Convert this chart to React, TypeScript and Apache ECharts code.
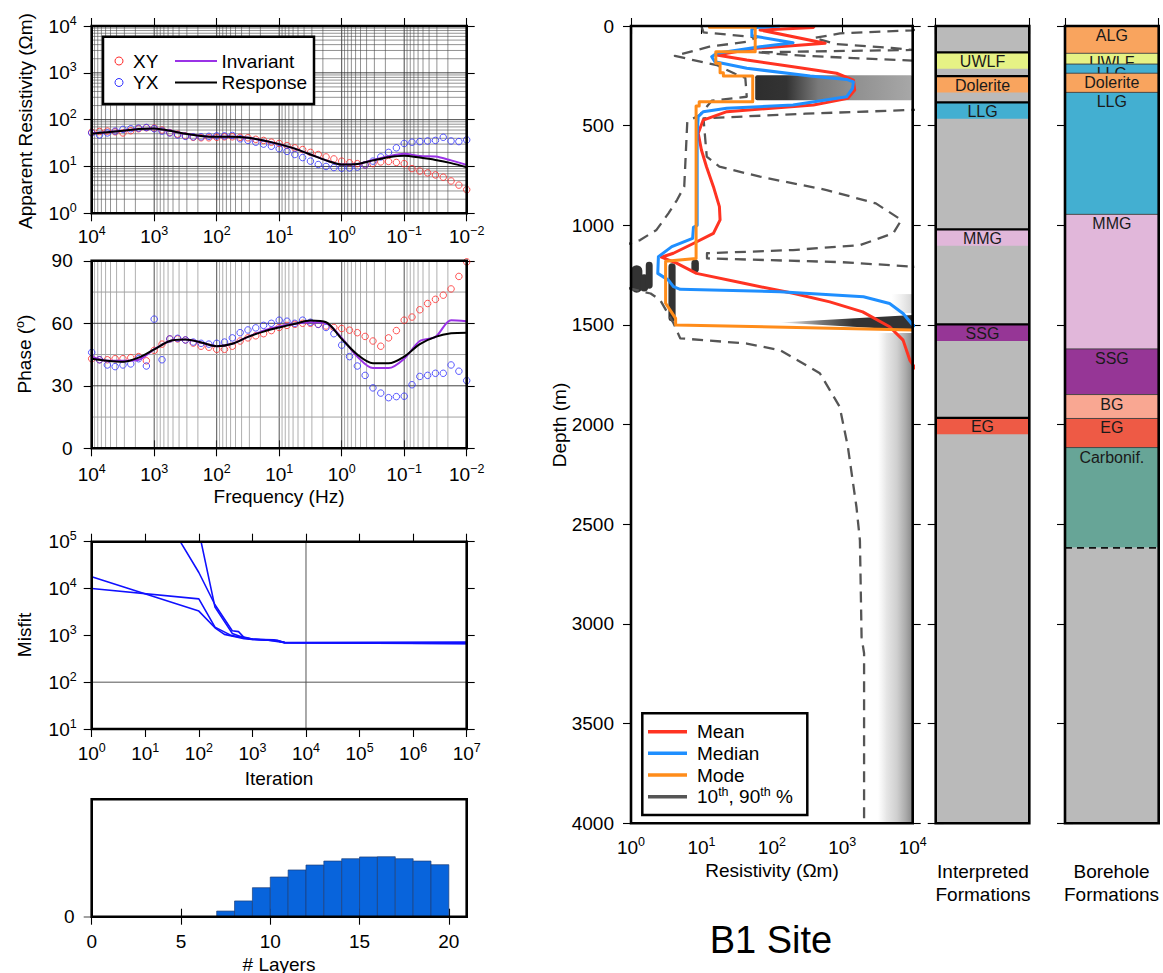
import React, { useEffect, useRef } from 'react';
import * as echarts from 'echarts';

const FONT = '"Liberation Sans", Arial, Helvetica, sans-serif';
const font = (px: number) => `${px}px ${FONT}`;

// ---------- MT sounding: apparent resistivity and phase ----------
// measurement frequencies as log10(Hz)
const dataFreqExp = [
  4, 3.875, 3.75, 3.625, 3.5, 3.375, 3.25, 3.125, 3, 2.875, 2.75, 2.625, 2.5,
  2.375, 2.25, 2.125, 2, 1.875, 1.75, 1.625, 1.5, 1.375, 1.25, 1.125, 1,
  0.875, 0.75, 0.625, 0.5, 0.375, 0.25, 0.125, 0, -0.125, -0.25, -0.375, -0.5,
  -0.625, -0.75, -0.875, -1, -1.125, -1.25, -1.375, -1.5, -1.625, -1.75, -1.875, -2,
];
const xyRho = [
  54, 56, 57, 55, 52, 58, 64, 67, 66, 60, 53, 49, 45, 42, 41, 41, 42, 43, 43, 42, 41, 38, 36, 33, 31,
  28, 25, 23, 20, 18, 16, 14.5, 13, 12, 11.5, 10.8, 11.5, 12.5, 12.8, 12.2, 11.5, 9, 8, 7.3, 6.6, 5.9, 4.9, 4.0, 3.2,
];
const yxRho = [
  52, 47, 52, 57, 62, 64, 66, 68, 64, 57, 52, 47, 44, 43, 43, 44, 45, 45, 46, 39, 36, 33, 30, 27, 24,
  21, 18, 15.5, 13, 11, 10, 9.5, 9.2, 9.3, 9.7, 10.8, 13, 16, 20, 25, 31, 33, 34, 35, 36, 42, 35, 34, 37,
];
const xyPhase = [
  43, 42.5, 42.5, 43, 43, 43.5, 44, 42, 47, 50, 52.5, 52.5, 52, 50.5, 49, 48.5, 47.5, 47.5, 49, 51.5,
  53, 54, 55, 56.5, 58, 59, 59.5, 60, 60, 59.5, 58.7, 58, 57.5, 56.7, 55.5, 53.7, 51.5, 49, 53, 56.5,
  61.5, 63, 66.5, 69.5, 71.5, 73.5, 76.5, 82.5, 89.5,
];
const yxPhase = [
  46, 42.5, 40, 39.2, 40, 40.5, 43, 39.5, 62, 42.5, 52.5, 52.8, 52, 51, 50.4, 50, 50.4, 51, 53, 55.5,
  56.8, 57.8, 59, 60, 61.5, 61, 60, 61.5, 60.5, 59.5, 58, 55, 49.5, 44, 39.5, 35, 29, 26.5, 24.3, 24.8,
  25, 30.5, 34.5, 35, 36, 36, 40, 37, 32.5,
];
// model curves, log10(Hz)
const curveFreqExp = [
  4, 3.75, 3.5, 3.25, 3, 2.75, 2.5, 2.25, 2, 1.75, 1.5, 1.25, 1, 0.75, 0.5, 0.25, 0,
  -0.25, -0.5, -0.75, -1, -1.25, -1.5, -1.75, -2,
];
const invariantRho = [51, 54, 58, 63, 65, 58, 50, 45, 43, 43, 41, 36, 30, 24, 18, 13.5, 11, 11.3, 13.8, 16.5, 18.8, 16.8, 16.3, 13.5, 10.8];
const responseRho = [50, 54, 58, 63, 65, 58, 50, 45, 43, 43, 41, 36, 30, 24, 18, 13.5, 11, 11.3, 13.5, 15.8, 17, 15.5, 13.8, 11.8, 9.6];
const invariantPhase = [44, 42, 42, 42.5, 47.5, 51.5, 52.2, 50.8, 49, 50.2, 53.5, 56.5, 58.5, 59.8, 60.5, 60, 53, 44, 38.5, 38.5, 43, 51.5, 53.5, 61.5, 61];
const responsePhase = [43, 42, 41.5, 43.5, 47.5, 51.5, 52.2, 50.8, 49, 50.2, 53.5, 56, 58, 59.8, 61.3, 60.5, 52.5, 45, 40.8, 40.8, 44, 50, 53.5, 55.2, 55.5];

// ---------- McMC chains: misfit versus iteration ----------
const chain1Iter = [1, 100, 200, 300, 500, 700, 1000, 2000, 4000, 10000000];
const chain1Misfit = [17800, 3300, 1450, 1050, 920, 850, 820, 790, 700, 690];
const chain2Iter = [1, 100, 200, 400, 700, 1000, 3000, 4000, 10000000];
const chain2Misfit = [10000, 6000, 1500, 1000, 880, 830, 760, 700, 675];
const chain3Iter = [45, 100, 200, 420, 550, 700, 1000, 2500, 4000, 10000000];
const chain3Misfit = [100000, 22000, 4500, 1250, 1200, 900, 820, 800, 700, 660];
const chain4Iter = [110, 200, 420, 600, 1000, 3000, 4000, 10000000];
const chain4Misfit = [100000, 4000, 1100, 950, 830, 780, 705, 715];

// ---------- posterior number of layers ----------
const layerBinEdges = [7, 8, 9, 10, 11, 12, 13, 14, 15, 16, 17, 18, 19, 20];
const layerProbability = [0.0096, 0.0268, 0.0494, 0.0676, 0.0796, 0.088, 0.0948, 0.0988, 0.1018, 0.1022, 0.0988, 0.0948, 0.0886];

// ---------- resistivity-depth posterior ----------
const meanDepth = [0, 7, 20, 87, 112, 145, 171, 204, 237, 271, 321, 363, 396, 430, 472, 538, 622, 706, 806, 906, 973, 1040, 1090, 1140, 1160, 1191, 1241, 1291, 1341, 1384, 1434, 1509, 1576, 1676, 1720];
const meanRho = [400, 390, 68, 570, 60, 16.5, 44, 200, 830, 1440, 1500, 1200, 390, 23, 10.6, 9, 10, 11.8, 14.8, 18, 18.4, 14.8, 7.8, 4, 2.7, 4.5, 8.5, 40, 200, 665, 1950, 4700, 7300, 9100, 11000];
const medianDepth = [0, 8, 17, 49, 84, 104, 137, 154, 179, 212, 251, 268, 280, 313, 355, 396, 413, 430, 455, 538, 1000, 1010, 1065, 1107, 1157, 1241, 1275, 1308, 1321, 1333, 1358, 1392, 1442, 1500, 1520];
const medianRho = [130, 60, 52, 52, 200, 68, 16.5, 14, 15.5, 44, 350, 1150, 1440, 1400, 1150, 200, 22.8, 10.6, 9, 8.7, 8.7, 7.7, 7.5, 3.8, 2.45, 2.4, 3.4, 4.0, 5, 130, 2000, 4700, 7300, 10000, 15000];
const modeDepth = [0, 6, 6, 129, 129, 187, 187, 234, 234, 251, 251, 380, 380, 401, 401, 1166, 1180, 1391, 1467, 1500, 1525];
const modeRho = [13, 13, 58, 58, 16, 16, 18.4, 18.4, 20.5, 20.5, 53.5, 53.5, 9.3, 9.3, 8.4, 8.4, 3.1, 3.1, 4.3, 4.3, 10000];
const p10Depth = [0, 32, 57, 79, 104, 150, 171, 196, 240, 260, 355, 375, 446, 480, 806, 873, 940, 1023, 1074, 1100, 1310, 1342, 1375, 1490, 1567, 1593, 1626, 1742, 1911, 2111, 2413, 2580, 3066, 3147, 4000];
const p10Rho = [10, 10.7, 61, 44, 13, 4.2, 7.7, 16.5, 30, 42, 44, 14, 9.5, 6.3, 5.7, 4.5, 3.4, 2.3, 1.35, 0.8, 0.8, 1.9, 2.6, 4, 5, 44, 130, 480, 920, 1200, 1590, 1780, 1880, 2040, 2040];
const p90Depth = [0, 22, 37, 60, 90, 110, 120, 132, 150, 174, 180, 415, 421, 440, 463, 655, 706, 756, 823, 890, 973, 1040, 1099, 1124, 1140, 1166, 1185, 1207, 1215, 4000];
const p90Rho = [20000, 10000, 930, 400, 800, 5000, 10000, 61, 300, 10000, 20000, 20000, 10000, 300, 10.7, 11.9, 18, 68, 600, 3000, 6900, 5300, 1800, 200, 12, 12, 1000, 10000, 20000, 20000];

// high-probability patches of the posterior density (resistivity range, depth range)
const shadeRhoMin = [58, 1.0, 1.35, 1.62, 3.4, 7.2, 3200, 5000];
const shadeRhoMax = [10000, 1.45, 1.75, 2.03, 4.3, 9.2, 10000, 10000];
const shadeTop = [247, 1200, 1245, 1183, 1190, 1172, 1540, 1345];
const shadeBottom = [373, 1338, 1332, 1318, 1482, 1238, 4000, 1440];
const wedgeRho = [130, 10000, 10000];
const wedgeDepth = [1488, 1450, 1527];

// ---------- formations ----------
const modelBase = 4000;
const interpUnits = ['UWLF', 'Dolerite', 'LLG', 'MMG', 'SSG', 'EG'];
const interpTops = [132, 251, 383, 1020, 1497, 1966];
const boreUnits = ['ALG', 'UWLF', 'LLG', 'Dolerite', 'LLG', 'MMG', 'SSG', 'BG', 'EG', 'Carbonif.', ''];
const boreTops = [0, 137, 191, 237, 333, 945, 1620, 1849, 1969, 2115, 2618];

const unitColors: Record<string, string> = {
  ALG: '#f9a45e', UWLF: '#e6f285', LLG: '#43afd1', Dolerite: '#f9a45e', MMG: '#e1b7da',
  SSG: '#963696', BG: '#f9a792', EG: '#ee5a45', 'Carbonif.': '#67a597', '': '#bababa',
};
const shadeStyles: any[] = [
  { r: 2, stops: [[0, '#2e2e2e'], [0.2, '#333333'], [0.3, '#575757'], [0.4, '#7a7a7a'], [0.6, '#8e8e8e'], [1, '#a8a8a8']] },
  { r: 6, color: '#333333' },
  { r: 5, color: '#333333' },
  { r: 4, color: '#333333' },
  { r: 4, color: '#333333' },
  { r: 6, color: '#333333' },
  { r: 0, stops: [[0, 'rgba(235,235,235,0)'], [0.25, '#e6e6e6'], [0.55, '#cfcfcf'], [0.8, '#ababab'], [1, '#878787']] },
  { r: 0, stops: [[0, 'rgba(225,225,225,0)'], [1, '#d4d4d4']] },
];

const RED = '#ff2a2a';
const BLUE = '#2f2fff';
const PURPLE = '#9a32e6';
const MEAN_C = '#ff3322';
const MEDIAN_C = '#1f8fff';
const MODE_C = '#ff8c1a';
const PCT_C = '#555555';

const powerLabel = (v: number) => {
  const e = Math.round(Math.log10(v));
  return '{b|10}{s|' + (e < 0 ? '\u2212' + -e : String(e)) + '}';
};
const supRich = {
  b: { fontFamily: FONT, fontSize: 19, lineHeight: 24, color: '#000' },
  s: { fontFamily: FONT, fontSize: 12.5, lineHeight: 13, color: '#000', verticalAlign: 'top' },
};

const grad = (stops: any[]) =>
  new echarts.graphic.LinearGradient(0, 0, 1, 0, stops.map(([offset, color]: any) => ({ offset, color })));

function buildOption(): any {
  const boxes = [
    { left: 91.7, top: 26, width: 375, height: 187.3 },
    { left: 91.7, top: 260.8, width: 375, height: 187.5 },
    { left: 91.7, top: 541.7, width: 375, height: 187.3 },
    { left: 91.7, top: 799.3, width: 375, height: 117.4 },
    { left: 631, top: 26, width: 281.7, height: 797.3 },
    { left: 935.7, top: 26, width: 93.6, height: 797.3 },
    { left: 1065, top: 26, width: 93.7, height: 797.3 },
  ];
  const grid = boxes.map((b) => ({
    ...b, show: true, borderColor: '#000', borderWidth: 2.6, backgroundColor: 'transparent', z: 20,
  }));

  const xAxis: any[] = [];
  const yAxis: any[] = [];
  const tick = (extra: any = {}) => ({
    show: true, inside: false, length: 8, lineStyle: { color: '#000', width: 1.1 }, ...extra,
  });
  const supLabel = (margin: number) => ({ show: true, margin, formatter: powerLabel, rich: supRich });
  const numLabel = (margin: number, extra: any = {}) => ({
    show: true, margin, fontFamily: FONT, fontSize: 19, color: '#000', lineHeight: 24,
    formatter: (v: number) => String(v), ...extra,
  });
  const addAxes = (g: number, x: any, y: any) => {
    const base = { gridIndex: g, axisLine: { show: false }, splitLine: { show: false } };
    const { label: xl, tick: xt, ...xs } = x;
    const { label: yl, tick: yt, ...ys } = y;
    xAxis.push({ ...base, ...xs, position: 'bottom', axisTick: xt || tick(), axisLabel: xl || { show: false } });
    xAxis.push({ ...base, ...xs, position: 'top', axisTick: xt || tick(), axisLabel: { show: false } });
    yAxis.push({ ...base, ...ys, position: 'left', axisTick: yt || tick(), axisLabel: yl || { show: false } });
    yAxis.push({ ...base, ...ys, position: 'right', axisTick: yt || tick(), axisLabel: { show: false } });
  };
  const freqAxis = { type: 'log', logBase: 10, min: 0.01, max: 10000, inverse: true };
  addAxes(0, { ...freqAxis, label: supLabel(11) }, { type: 'log', logBase: 10, min: 1, max: 10000, label: supLabel(15) });
  addAxes(1, { ...freqAxis, label: supLabel(14) }, { type: 'value', min: 0, max: 90, interval: 30, label: numLabel(19) });
  addAxes(2, { type: 'log', logBase: 10, min: 1, max: 1e7, label: supLabel(12) }, { type: 'log', logBase: 10, min: 10, max: 1e5, label: supLabel(15) });
  const histTicks = [0, 5, 10, 15, 20];
  addAxes(
    3,
    { type: 'value', min: 0, max: 21, interval: 5, label: numLabel(13, { customValues: histTicks }), tick: tick({ customValues: histTicks }) },
    { type: 'value', min: 0, max: 0.2, label: numLabel(17, { customValues: [0] }), tick: tick({ customValues: [0], lineStyle: { color: '#8a8a8a', width: 1.6 } }) },
  );
  const depthAxis = { type: 'value', min: 0, max: modelBase, interval: 500, inverse: true };
  addAxes(4, { type: 'log', logBase: 10, min: 1, max: 10000, label: supLabel(12) }, { ...depthAxis, label: numLabel(17) });
  addAxes(5, { type: 'value', min: 0, max: 1, interval: 1 }, { ...depthAxis });
  addAxes(6, { type: 'value', min: 0, max: 1, interval: 1 }, { ...depthAxis });

  // grid-line helpers drawn through the axes' scales
  const vGrid = (g: number, values: number[], yLo: number, yHi: number, color: string, width: number) => ({
    type: 'custom', xAxisIndex: 2 * g, yAxisIndex: 2 * g, silent: true, z: 1,
    data: values.map((v) => [v, yLo]),
    renderItem: (params: any, api: any) => {
      const a = api.coord([api.value(0), yLo]);
      const b = api.coord([api.value(0), yHi]);
      return { type: 'line', shape: { x1: a[0], y1: a[1], x2: b[0], y2: b[1] }, style: { stroke: color, lineWidth: width } };
    },
  });
  const hGrid = (g: number, values: number[], xLo: number, xHi: number, color: string, width: number) => ({
    type: 'custom', xAxisIndex: 2 * g, yAxisIndex: 2 * g, silent: true, z: 1,
    data: values.map((v) => [xLo, v]),
    renderItem: (params: any, api: any) => {
      const a = api.coord([xLo, api.value(1)]);
      const b = api.coord([xHi, api.value(1)]);
      return { type: 'line', shape: { x1: a[0], y1: a[1], x2: b[0], y2: b[1] }, style: { stroke: color, lineWidth: width } };
    },
  });
  const logLines = (e0: number, e1: number) => {
    const out: number[] = [];
    for (let e = e0; e < e1; e++) {
      for (let m = 2; m <= 9; m++) out.push(m * Math.pow(10, e));
    }
    return out;
  };

  const line = (g: number, xs: number[], ys: number[], color: string, width: number, extra: any = {}) => ({
    type: 'line', xAxisIndex: 2 * g, yAxisIndex: 2 * g, symbol: 'none', showSymbol: false, silent: true, clip: true,
    data: xs.map((x, i) => [x, ys[i]]), lineStyle: { color, width }, z: 4, ...extra,
  });
  const scatter = (g: number, xs: number[], ys: number[], color: string) => ({
    type: 'scatter', xAxisIndex: 2 * g, yAxisIndex: 2 * g, symbol: 'circle', symbolSize: 6.5, silent: true, z: 3,
    data: xs.map((x, i) => [x, ys[i]]),
    itemStyle: { color: 'rgba(0,0,0,0)', borderColor: color, borderWidth: 1 },
  });
  const dataFreq = dataFreqExp.map((e) => Math.pow(10, e));
  const curveFreq = curveFreqExp.map((e) => Math.pow(10, e));
  const depthLine = (depth: number[], rho: number[], color: string, width: number, z: number, type: any = 'solid') =>
    line(4, rho, depth, color, width, { z, lineStyle: { color, width, type, cap: 'butt', join: 'round' } });

  const series: any[] = [
    // apparent resistivity
    vGrid(0, logLines(-2, 4), 1, 10000, '#4a4a4a', 0.6),
    vGrid(0, [0.1, 1, 10, 100, 1000], 1, 10000, '#333', 0.9),
    hGrid(0, logLines(0, 4), 0.01, 10000, '#4a4a4a', 0.6),
    hGrid(0, [10, 100, 1000], 0.01, 10000, '#333', 0.9),
    scatter(0, dataFreq, xyRho, RED),
    scatter(0, dataFreq, yxRho, BLUE),
    line(0, curveFreq, invariantRho, PURPLE, 2, { smooth: 0.3 }),
    line(0, curveFreq, responseRho, '#000', 2, { smooth: 0.3, z: 5 }),
    // phase
    vGrid(1, logLines(-2, 4), 0, 90, '#7a7a7a', 0.6),
    vGrid(1, [0.1, 1, 10, 100, 1000], 0, 90, '#404040', 0.9),
    hGrid(1, [15, 45, 75], 0.01, 10000, '#a0a0a0', 1),
    hGrid(1, [30, 60], 0.01, 10000, '#404040', 1),
    scatter(1, dataFreq, xyPhase, RED),
    scatter(1, dataFreq, yxPhase, BLUE),
    line(1, curveFreq, invariantPhase, PURPLE, 2, { smooth: 0.3 }),
    line(1, curveFreq, responsePhase, '#000', 2, { smooth: 0.3, z: 5 }),
    // misfit
    vGrid(2, [10000], 10, 1e5, '#555', 1),
    hGrid(2, [100], 1, 1e7, '#555', 1),
    line(2, chain1Iter, chain1Misfit, '#1010ff', 1.6),
    line(2, chain2Iter, chain2Misfit, '#1010ff', 1.6),
    line(2, chain3Iter, chain3Misfit, '#1010ff', 1.6),
    line(2, chain4Iter, chain4Misfit, '#1010ff', 1.6),
    // number of layers histogram
    {
      type: 'custom', xAxisIndex: 6, yAxisIndex: 6, silent: true, z: 3,
      data: layerProbability.map((p, i) => [layerBinEdges[i], p]),
      renderItem: (params: any, api: any) => {
        const i = params.dataIndex;
        const a = api.coord([layerBinEdges[i], layerProbability[i]]);
        const b = api.coord([layerBinEdges[i + 1], 0]);
        return {
          type: 'rect', shape: { x: a[0], y: a[1], width: b[0] - a[0], height: b[1] - a[1] },
          style: { fill: '#0864dc', stroke: '#1c3f7a', lineWidth: 0.7 },
        };
      },
    },
    // posterior density shading
    {
      type: 'custom', xAxisIndex: 8, yAxisIndex: 8, silent: true, z: 1,
      data: shadeTop.map((t, i) => [shadeRhoMin[i], t]),
      renderItem: (params: any, api: any) => {
        const i = params.dataIndex;
        const a = api.coord([shadeRhoMin[i], shadeTop[i]]);
        const b = api.coord([shadeRhoMax[i], shadeBottom[i]]);
        const st = shadeStyles[i];
        return {
          type: 'rect', shape: { x: a[0], y: a[1], width: b[0] - a[0], height: b[1] - a[1], r: st.r },
          style: { fill: st.stops ? grad(st.stops) : st.color },
        };
      },
    },
    {
      type: 'custom', xAxisIndex: 8, yAxisIndex: 8, silent: true, z: 1,
      data: [[wedgeRho[0], wedgeDepth[0]]],
      renderItem: (params: any, api: any) => ({
        type: 'polygon',
        shape: { points: wedgeRho.map((r, i) => api.coord([r, wedgeDepth[i]])) },
        style: { fill: grad([[0, 'rgba(51,51,51,0.05)'], [0.3, 'rgba(51,51,51,0.65)'], [0.55, '#333'], [1, '#333']]) },
      }),
    },
    depthLine(p10Depth, p10Rho, PCT_C, 2.3, 3, [11, 7]),
    depthLine(p90Depth, p90Rho, PCT_C, 2.3, 3, [11, 7]),
    depthLine(meanDepth, meanRho, MEAN_C, 3, 4),
    depthLine(medianDepth, medianRho, MEDIAN_C, 3, 5),
    depthLine(modeDepth, modeRho, MODE_C, 3, 6),
    // interpreted formations
    {
      type: 'custom', xAxisIndex: 10, yAxisIndex: 10, silent: true, z: 1,
      data: [[0, 0]],
      renderItem: (params: any, api: any) => {
        const a = api.coord([0, 0]);
        const b = api.coord([1, modelBase]);
        return { type: 'rect', shape: { x: a[0], y: a[1], width: b[0] - a[0], height: b[1] - a[1] }, style: { fill: unitColors[''] } };
      },
    },
    {
      type: 'custom', xAxisIndex: 10, yAxisIndex: 10, silent: true, z: 2,
      data: interpTops.map((t) => [0.5, t]),
      renderItem: (params: any, api: any) => {
        const i = params.dataIndex;
        const a = api.coord([0, interpTops[i]]);
        const b = api.coord([1, interpTops[i]]);
        const name = interpUnits[i];
        return {
          type: 'group',
          children: [
            { type: 'rect', shape: { x: a[0], y: a[1], width: b[0] - a[0], height: 16.5 }, style: { fill: unitColors[name] } },
            { type: 'line', shape: { x1: a[0], y1: a[1], x2: b[0], y2: a[1] }, style: { stroke: '#000', lineWidth: 2.2 } },
            {
              type: 'text', x: (a[0] + b[0]) / 2, y: a[1] + 9,
              style: { text: name, font: font(16), fill: '#1a1a1a', align: 'center', verticalAlign: 'middle' },
            },
          ],
        };
      },
    },
    // borehole formations
    {
      type: 'custom', xAxisIndex: 12, yAxisIndex: 12, silent: true, z: 2,
      data: boreTops.map((t) => [0.5, t]),
      renderItem: (params: any, api: any) => {
        const i = params.dataIndex;
        const bottom = i + 1 < boreTops.length ? boreTops[i + 1] : modelBase;
        const a = api.coord([0, boreTops[i]]);
        const b = api.coord([1, bottom]);
        const name = boreUnits[i];
        const children: any[] = [
          { type: 'rect', shape: { x: a[0], y: a[1], width: b[0] - a[0], height: b[1] - a[1] }, style: { fill: unitColors[name] } },
        ];
        if (i > 0) {
          const st: any = { stroke: name ? '#3a3a3a' : '#111', lineWidth: name ? 0.9 : 1.6 };
          if (!name) st.lineDash = [7, 5];
          children.push({ type: 'line', shape: { x1: a[0], y1: a[1], x2: b[0], y2: a[1] }, style: st });
        }
        if (name) {
          children.push({
            type: 'text', x: (a[0] + b[0]) / 2, y: a[1] + 1.5,
            style: { text: name, font: font(16), fill: '#1a1a1a', align: 'center', verticalAlign: 'top' },
          });
        }
        return { type: 'group', children };
      },
    },
  ];

  const txt = (x: number, y: number, text: string, size = 19, extra: any = {}, styleExtra: any = {}) => ({
    type: 'text', x, y, z: 40, silent: true,
    style: {
      text, font: font(size), fill: '#000', align: 'center', verticalAlign: 'middle',
      textAlign: 'center', textVerticalAlign: 'middle', ...styleExtra,
    },
    ...extra,
  });
  const leftTxt = (x: number, y: number, text: string, extraStyle: any = {}) =>
    txt(x, y, text, 19, {}, { align: 'left', textAlign: 'left', ...extraStyle });
  const seg = (x1: number, x2: number, y: number, color: string, w: number) => ({
    type: 'line', z: 41, silent: true, shape: { x1, y1: y, x2, y2: y }, style: { stroke: color, lineWidth: w },
  });
  const richSup = {
    a: { fontFamily: FONT, fontSize: 19, lineHeight: 22, color: '#000' },
    s: { fontFamily: FONT, fontSize: 12.5, lineHeight: 13, color: '#000', verticalAlign: 'top' },
  };

  const graphic = [
    // axis titles
    txt(25, 121, 'Apparent Resistivity (\u03a9m)', 19, { rotation: Math.PI / 2 }),
    txt(24.5, 354, '{a|Phase (}{s|o}{a|)}', 19, { rotation: Math.PI / 2 }, { rich: richSup }),
    txt(279, 496, 'Frequency (Hz)'),
    txt(24, 635, 'Misfit', 19, { rotation: Math.PI / 2 }),
    txt(279, 778, 'Iteration'),
    txt(279, 964, '# Layers'),
    txt(559, 425, 'Depth (m)', 19, { rotation: Math.PI / 2 }),
    txt(772, 870, 'Resistivity (\u03a9m)'),
    txt(983, 871, 'Interpreted'),
    txt(983, 894, 'Formations'),
    txt(1111.5, 871, 'Borehole'),
    txt(1111.5, 894, 'Formations'),
    txt(771, 940, 'B1 Site', 38),
    // data legend
    { type: 'rect', z: 40, silent: true, shape: { x: 103, y: 36.7, width: 211, height: 67.3 }, style: { fill: '#fff', stroke: '#000', lineWidth: 2.5 } },
    { type: 'circle', z: 41, silent: true, shape: { cx: 119, cy: 61, r: 4 }, style: { fill: 'none', stroke: RED, lineWidth: 1 } },
    { type: 'circle', z: 41, silent: true, shape: { cx: 119, cy: 82.5, r: 4 }, style: { fill: 'none', stroke: BLUE, lineWidth: 1 } },
    leftTxt(133, 61, 'XY'),
    leftTxt(133, 82.5, 'YX'),
    seg(175, 217, 61, PURPLE, 2.2),
    seg(175, 217, 82.5, '#000', 2.2),
    leftTxt(221.5, 61, 'Invariant'),
    leftTxt(221.5, 82.5, 'Response'),
    // profile legend
    { type: 'rect', z: 40, silent: true, shape: { x: 642.3, y: 713.3, width: 165, height: 101.7 }, style: { fill: '#fff', stroke: '#000', lineWidth: 2.5 } },
    seg(648, 687, 731.7, MEAN_C, 3.5),
    seg(648, 687, 753.3, MEDIAN_C, 3.5),
    seg(648, 687, 775, MODE_C, 3.5),
    seg(648, 687, 796.7, PCT_C, 3.5),
    leftTxt(697, 731.7, 'Mean'),
    leftTxt(697, 753.3, 'Median'),
    leftTxt(697, 775, 'Mode'),
    leftTxt(697, 796.7, '{a|10}{s|th}{a|, 90}{s|th}{a| %}', { rich: richSup }),
  ];

  return {
    animation: false,
    backgroundColor: '#fff',
    grid,
    xAxis,
    yAxis,
    series,
    graphic: { elements: graphic },
  };
}

export default function App() {
  const ref = useRef<HTMLDivElement>(null);
  useEffect(() => {
    const chart = echarts.init(ref.current as HTMLDivElement, null, { renderer: 'svg' });
    chart.setOption(buildOption());
    return () => chart.dispose();
  }, []);
  return <div ref={ref} style={{ position: 'absolute', left: 0, top: 0, width: 1163, height: 973 }} />;
}
